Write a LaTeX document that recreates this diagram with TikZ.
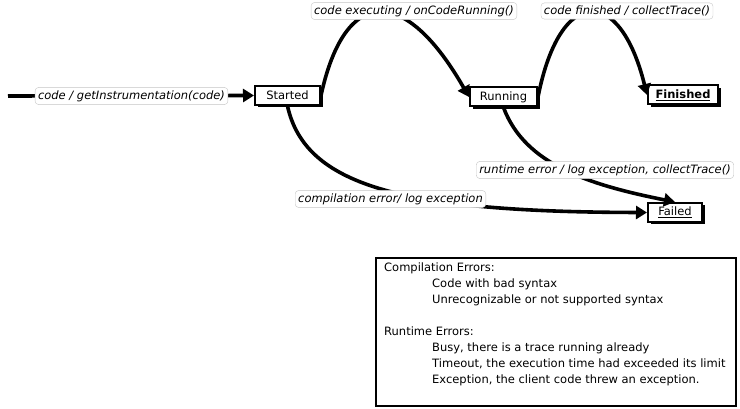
\documentclass[tikz,border=0pt]{standalone}
\usepackage{fontspec}
\setmainfont{DejaVu Sans}
\usetikzlibrary{arrows.meta,shadows}

\tikzset{
  estado/.style={draw, line width=2pt, fill=white, inner sep=0pt,
    minimum height=19pt, font=\fontsize{11.5}{13}\selectfont,
    drop shadow={shadow xshift=2.5pt, shadow yshift=-2.5pt, fill=black, opacity=1}},
  etiqueta/.style={draw=gray!45, fill=white, rounded corners=3.5pt, inner xsep=3pt,
    inner ysep=3pt, font=\fontsize{11.5}{13}\selectfont\itshape},
  flecha/.style={line width=3.6pt, -{Triangle[length=11pt,width=13pt]}}
}

\begin{document}
\begin{tikzpicture}[x=1pt, y=1pt]
  \useasboundingbox (0,0) rectangle (740,-409);

  % Estados
  \node[estado, minimum width=65pt] (started) at (287.5,-95.5) {Started};
  \node[estado, minimum width=67pt] (running) at (503.5,-97) {Running};
  \node[estado, minimum width=70pt] (finished) at (683,-95) {\textbf{\underline{Finished}}};
  \node[estado, minimum width=54pt] (failed) at (675,-212.5) {\underline{Failed}};

  % Punto inicial
  \coordinate (ini) at (8,-96);

  % Transiciones
  \draw[flecha] (ini) -- (started.west);
  \draw[flecha] (started.east) .. controls (345,15) and (405,15) .. (running.west);
  \draw[flecha] (running.east) .. controls (560,15) and (620,15) .. (finished.west);
  \draw[flecha] (running.south) .. controls (525,-165) and (590,-185) .. (failed.north);
  \draw[flecha] (started.south) .. controls (305,-185) and (400,-212) .. (failed.west);

  % Etiquetas de las transiciones
  \node[etiqueta] (lblInit) at (131.5,-96) {code / getInstrumentation(code)};
  \node[etiqueta] (lblExec) at (414,-11) {code executing / onCodeRunning()};
  \node[etiqueta] (lblFin) at (627,-11) {code finished / collectTrace()};
  \node[etiqueta] (lblRun) at (605,-170) {runtime error / log exception, collectTrace()};
  \node[etiqueta] (lblComp) at (390.5,-199) {compilation error/ log exception};

  % Nota con los errores
  \draw[line width=1.3pt] (376,-258) rectangle (736,-406);
  \node[anchor=north west, align=left, inner sep=0pt,
    font=\fontsize{11.5}{16}\selectfont] (notes) at (384,-263) {%
    Compilation Errors:\\
    \hspace*{48pt}Code with bad syntax\\
    \hspace*{48pt}Unrecognizable or not supported syntax\\[16pt]
    Runtime Errors:\\
    \hspace*{48pt}Busy, there is a trace running already\\
    \hspace*{48pt}Timeout, the execution time had exceeded its limit\\
    \hspace*{48pt}Exception, the client code threw an exception.};
\end{tikzpicture}
\end{document}
